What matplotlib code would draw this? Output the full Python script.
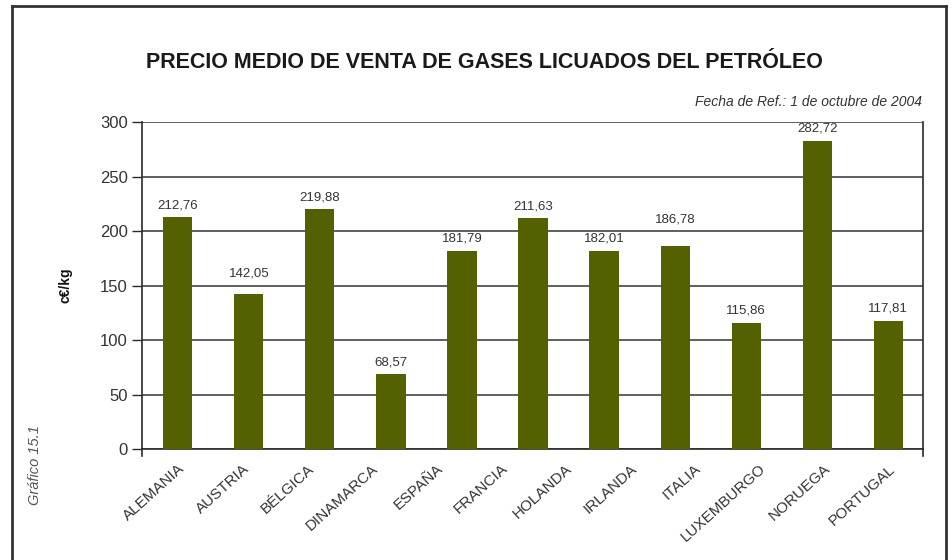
import matplotlib.pyplot as plt
import numpy as np
from matplotlib.lines import Line2D

# Precio medio de venta de GLP (c€/kg); el gráfico original trae 11 barras y 12 rótulos
paises = ['ALEMANIA', 'AUSTRIA', 'BÉLGICA', 'DINAMARCA', 'ESPAÑA', 'FRANCIA',
          'HOLANDA', 'IRLANDA', 'ITALIA', 'LUXEMBURGO', 'NORUEGA', 'PORTUGAL']
precios = [212.76, 142.05, 219.88, 68.57, 181.79, 211.63,
           182.01, 186.78, 115.86, 282.72, 117.81]
yticks = [0, 50, 100, 150, 200, 250, 300]

plt.rcParams['font.family'] = ['Liberation Sans', 'DejaVu Sans']

verde = '#556100'
oscuro = '#2a2a2a'
texto = '#333333'

fig = plt.figure(figsize=(9.52, 5.6), dpi=100)
ax = fig.add_axes([0.149, 0.198, 0.8205, 0.584])

x = np.arange(len(precios))
ax.bar(x, precios, width=0.41, color=verde, zorder=3)

# etiquetas de valor: si caen sobre una línea de la rejilla se suben encima de ella
for xi, v in zip(x, precios):
    txt = ('%.2f' % v).replace('.', ',')
    yc = v + 11
    for g in yticks:
        if abs(yc - g) < 6:
            yc = g + 11
    ax.text(xi, yc, txt, ha='center', va='center', fontsize=9.5, color=texto)

ax.set_xlim(-0.507, len(precios) - 1 + 0.49)
ax.set_ylim(0, 300)
ax.set_yticks(yticks)
ax.set_yticklabels([str(t) for t in yticks], fontsize=12, color=texto)
ax.yaxis.grid(True, color='#444444', linewidth=1.2, zorder=0)
ax.tick_params(axis='y', length=7, width=1, color=oscuro, pad=3)

# los rótulos se reparten a lo ancho de las barras
ax.set_xticks(np.linspace(0, len(precios) - 1, len(paises)))
ax.set_xticklabels(paises, rotation=42, ha='right', rotation_mode='anchor',
                   fontsize=11, color=texto)
ax.tick_params(axis='x', length=0, pad=9)

for lado in ['left', 'bottom', 'right']:
    ax.spines[lado].set_color(oscuro)
    ax.spines[lado].set_linewidth(1.2)
ax.spines['top'].set_visible(False)

# prolongaciones de los ejes por debajo de la base
for xs in [0, 1]:
    ax.add_line(Line2D([xs, xs], [0, -0.02], transform=ax.transAxes,
                       color=oscuro, linewidth=1.2, clip_on=False))

fig.text(0.069, 0.491, 'c€/kg', rotation=90, ha='center', va='center',
         fontsize=10, fontweight='bold', color='#111111')

fig.text(0.509, 0.889, 'PRECIO MEDIO DE VENTA DE GASES LICUADOS DEL PETRÓLEO',
         ha='center', va='center', fontsize=15.5, fontweight='bold', color='#1a1a1a')
fig.text(0.969, 0.818, 'Fecha de Ref.: 1 de octubre de 2004', ha='right',
         va='center', fontsize=10, style='italic', color=texto)
fig.text(0.037, 0.17, 'Gráfico 15.1', rotation=90, ha='center', va='center',
         fontsize=10.5, style='italic', color='#555555')

# marco exterior abierto por abajo
marco = dict(color='#333333', linewidth=2, transform=fig.transFigure)
fig.add_artist(Line2D([0.0125, 0.0125], [0, 0.99], **marco))
fig.add_artist(Line2D([0.0125, 0.9935], [0.99, 0.99], **marco))
fig.add_artist(Line2D([0.9935, 0.9935], [0, 0.99], **marco))

fig.savefig('out.png', dpi=100)
